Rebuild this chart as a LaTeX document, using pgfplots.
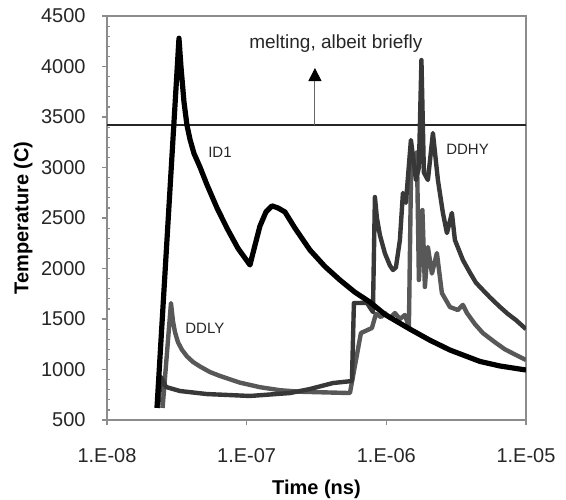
\documentclass[border=0pt]{standalone}
\usepackage{fontspec}
\setmainfont{Liberation Sans}
\usepackage{pgfplots}
\pgfplotsset{compat=1.18}
\usetikzlibrary{arrows.meta}
\definecolor{frame}{HTML}{8C8C8C}
\definecolor{ddhy}{HTML}{383838}
\definecolor{ddly}{HTML}{585858}
\begin{document}
\begin{tikzpicture}
\useasboundingbox (-53.5pt,-39.5pt) rectangle (229.5pt,210pt);
\begin{axis}[
  at={(0,0)}, anchor=south west,
  scale only axis, width=209.5pt, height=202pt,
  xmode=log, xmin=1e-8, xmax=1e-5, ymin=500, ymax=4500,
  xtick={1e-8,1e-7,1e-6,1e-5},
  xticklabels={1.E-08,1.E-07,1.E-06,1.E-05},
  xminorticks=false,
  ytick={500,1000,...,4500},
  minor y tick num=4,
  tick align=outside,
  tick pos=left,
  major tick length=2.5pt,
  minor tick length=-1.5pt,
  axis line style={draw=frame, line width=0.6pt},
  every tick/.style={draw=frame, line width=0.6pt},
  tick label style={font=\fontsize{10}{12}\selectfont, text=black!85},
  yticklabel style={/pgf/number format/1000 sep={}, /pgf/number format/assume math mode=true, inner sep=0pt, xshift=-8pt},
  xticklabel style={inner sep=0pt, yshift=-11.5pt},
  xlabel={Time (ns)}, ylabel={Temperature (C)},
  label style={font=\bfseries\fontsize{10}{12}\selectfont},
  xlabel style={at={(axis description cs:0.5,-0.1485)}, anchor=north, inner sep=0pt},
  ylabel style={at={(axis description cs:-0.1766,0.5)}, anchor=south, inner sep=0pt},
  clip=true,
]
% melting line
\addplot[black!85, line width=0.6pt] coordinates {(1e-8,3420) (1e-5,3420)};
\draw[line width=0.5pt, color=gray!80!black, -{Triangle[width=6.5pt,length=6.5pt,fill=black,color=black]}] (axis cs:3.083e-7,3420) -- (axis cs:3.083e-7,3985);

% DDLY
\addplot[ddly, line width=2.2pt, line join=round] coordinates {
(2.5e-8,619) (2.872e-8,1658) (2.968e-8,1480) (3.068e-8,1370) (3.223e-8,1270)
(3.443e-8,1195) (3.738e-8,1130) (4.126e-8,1075) (4.632e-8,1030) (5.462e-8,975)
(6.441e-8,936) (8.954e-8,870) (1.245e-7,825) (1.732e-7,795) (2.407e-7,780)
(5.490e-7,767) (6.579e-7,1361) (7.887e-7,1411) (8.423e-7,1550) (9.151e-7,1520)
(9.772e-7,1559) (1.061e-6,1510) (1.152e-6,1559) (1.251e-6,1500) (1.359e-6,1540)
(1.451e-6,1421) (1.512e-6,3200) (1.589e-6,2950) (1.656e-6,3150) (1.711e-6,1886)
(1.813e-6,2579) (1.889e-6,1817) (1.985e-6,2213) (2.121e-6,1950) (2.302e-6,2153)
(2.500e-6,1757) (2.853e-6,1619) (3.254e-6,1589) (3.534e-6,1640) (3.776e-6,1560)
(4.307e-6,1450) (4.914e-6,1361) (5.99e-6,1270) (7.063e-6,1200) (8.468e-6,1144) (1e-5,1094)
};
% DDHY
\addplot[ddhy, line width=2.2pt, line join=round] coordinates {
(2.318e-8,619) (2.435e-8,926) (2.645e-8,827) (3.331e-8,787) (5.197e-8,757)
(1.056e-7,738) (2.042e-7,767) (2.839e-7,807) (4.147e-7,866) (5.672e-7,886)
(5.862e-7,1658) (7.263e-7,1660) (8.017e-7,1569) (8.286e-7,2708) (8.564e-7,2500)
(9.0e-7,2330) (9.772e-7,2150) (1.061e-6,2030) (1.115e-6,1985) (1.171e-6,2010)
(1.251e-6,2282) (1.315e-6,2748) (1.381e-6,2650)
(1.500e-6,3272) (1.629e-6,2876) (1.711e-6,3000) (1.784e-6,4064) (1.858e-6,2950)
(1.985e-6,2876) (2.156e-6,3341) (2.341e-6,2876) (2.542e-6,2550) (2.716e-6,2351)
(2.948e-6,2550) (3.098e-6,2282) (3.534e-6,2084) (3.966e-6,1960) (4.379e-6,1860)
(4.914e-6,1787) (5.515e-6,1715) (6.506e-6,1620) (7.42e-6,1550) (8.468e-6,1490) (1e-5,1400)
};
% ID1
\addplot[black, line width=2.6pt, line join=round] coordinates {
(2.28e-8,620) (3.277e-8,4280) (3.386e-8,4000) (3.558e-8,3650) (3.738e-8,3420)
(3.928e-8,3280) (4.195e-8,3140)
(4.632e-8,3005) (5.197e-8,2830) (6.131e-8,2600) (7.228e-8,2400) (8.664e-8,2200)
(1.056e-7,2035) (1.147e-7,2230) (1.245e-7,2420) (1.375e-7,2560) (1.518e-7,2620)
(1.675e-7,2600) (1.88e-7,2560) (2.217e-7,2400) (2.839e-7,2183) (3.635e-7,2020)
(4.655e-7,1886) (5.96e-7,1765) (7.630e-7,1668) (9.772e-7,1545) (1.475e-6,1400)
(2.052e-6,1290) (2.853e-6,1193) (4.677e-6,1080) (6.506e-6,1035) (1e-5,995)
};

\node[anchor=base, font=\fontsize{9.5}{11}\selectfont, inner sep=0pt, text=black!85] at (axis cs:4.355e-7,4175) {melting, albeit briefly};
\node[anchor=base west, font=\fontsize{7.5}{9}\selectfont, inner sep=0pt, text=black!85] at (axis cs:5.28e-8,3104) {ID1};
\node[anchor=base west, font=\fontsize{7.5}{9}\selectfont, inner sep=0pt, text=black!85] at (axis cs:2.671e-6,3124) {DDHY};
\node[anchor=base west, font=\fontsize{7.5}{9}\selectfont, inner sep=0pt, text=black!85] at (axis cs:3.617e-8,1361) {DDLY};
\end{axis}
\end{tikzpicture}
\end{document}
